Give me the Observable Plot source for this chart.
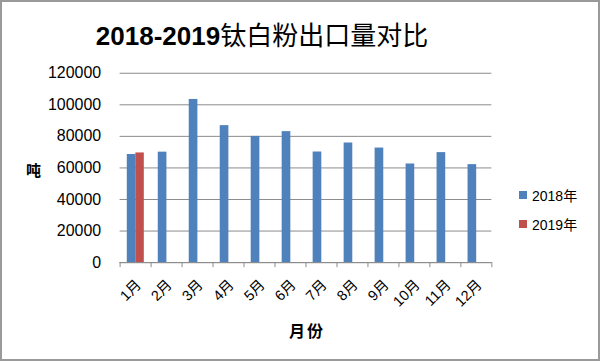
<!DOCTYPE html>
<html>
<head>
<meta charset="utf-8">
<script src="https://cdn.jsdelivr.net/npm/d3@7"></script>
<script src="https://cdn.jsdelivr.net/npm/@observablehq/plot@0.6"></script>
<style>
  html, body { margin: 0; padding: 0; background: #fff; }
  #wrap { position: relative; width: 600px; height: 361px; box-sizing: border-box; border: 2px solid #9a9a9a; overflow: hidden; font-family: "Liberation Sans", "Noto Sans CJK SC", sans-serif; }
  #chart { position: absolute; left: -2px; top: -2px; }
  #chart g[aria-label="y-axis tick label"] { font-size: 16px !important; }
  #chart g[aria-label="y-axis tick label"] text { font-size: 16px !important; }
  .abs { position: absolute; white-space: nowrap; color: #000; }
  #title { left: 0; width: 520px; top: 13px; text-align: center; font-size: 26px; font-weight: bold; font-family: "Liberation Sans", "Noto Sans CJK SC", sans-serif; }
  #title .cjk { font-family: "Noto Sans CJK SC", sans-serif; font-weight: 400; }
  #ylab { left: 24px; top: 157px; font-size: 15px; font-weight: bold; font-family: "Noto Sans CJK SC", sans-serif; }
  #xlab { left: 287px; top: 316px; font-size: 16px; font-weight: bold; letter-spacing: 2px; font-family: "Noto Sans CJK SC", sans-serif; }
  .leg { left: 517px; font-size: 14px; display: flex; align-items: center; font-family: "Liberation Sans", "Noto Sans CJK SC", sans-serif; }
  .sw { width: 8px; height: 8px; margin-right: 5px; }
</style>
</head>
<body>
<div id="wrap">
  <div id="chart"></div>
  <div id="title" class="abs">2018-2019<span class="cjk">钛白粉出口量对比</span></div>
  <div id="ylab" class="abs">吨</div>
  <div id="xlab" class="abs">月份</div>
  <div id="legend"></div>
</div>
<script>
const months = ["1月","2月","3月","4月","5月","6月","7月","8月","9月","10月","11月","12月"];
const series = ["2018年", "2019年"];
const values2018 = [68500, 70000, 103400, 86800, 80000, 83000, 70100, 75800, 72600, 62500, 69700, 62100];
const values2019 = [69500];
const yTicks = [0, 20000, 40000, 60000, 80000, 100000, 120000];
const colors = ["#4f81bd", "#c0504d"];

const rows = [];
values2018.forEach((v, i) => rows.push({i, month: months[i], series: series[0], value: v}));
values2019.forEach((v, i) => rows.push({i, month: months[i], series: series[1], value: v}));

const chart = Plot.plot({
  width: 600,
  height: 361,
  marginLeft: 120,
  marginRight: 107,
  marginTop: 73,
  marginBottom: 98,
  style: {fontFamily: "'Liberation Sans', 'Noto Sans CJK SC', sans-serif", fontSize: "15px", color: "#000", background: "transparent"},
  x: {type: "linear", domain: [0, months.length]},
  y: {domain: [0, 120000]},
  color: {domain: series, range: colors},
  marks: [
    Plot.gridY(yTicks, {stroke: "#8c8c8c", strokeOpacity: 1, strokeWidth: 1}),
    Plot.axisY({ticks: yTicks, tickSize: 0, tickPadding: 19, label: null, fontSize: 16, tickFormat: d3.format("d")}),
    Plot.rectY(rows.filter(d => d.series === series[0]), {x1: d => d.i, x2: d => d.i + 1, y: "value", fill: colors[0], insetLeft: 7.2, insetRight: 15.2}),
    Plot.rectY(rows.filter(d => d.series === series[1]), {x1: d => d.i, x2: d => d.i + 1, y: "value", fill: colors[1], insetLeft: 15.8, insetRight: 6.8}),
    Plot.ruleY([0], {stroke: "#8c8c8c"}),
    Plot.axisX({ticks: d3.range(months.length + 1), tickSize: 5, tickFormat: () => "", stroke: "#8c8c8c", label: null}),
    Plot.text(months, {x: (d, i) => i + 0.5, y: 0, text: d => d, rotate: -45, textAnchor: "end", lineAnchor: "middle", dx: 3, dy: 20, fontSize: 14.5})
  ]
});
document.getElementById("chart").appendChild(chart);

const legend = document.getElementById("legend");
series.forEach((s, k) => {
  const el = document.createElement("div");
  el.className = "abs leg";
  el.style.top = (183 + k * 29) + "px";
  el.innerHTML = `<span class="sw" style="background:${colors[k]}"></span><span>${s}</span>`;
  legend.appendChild(el);
});
</script>
</body>
</html>
